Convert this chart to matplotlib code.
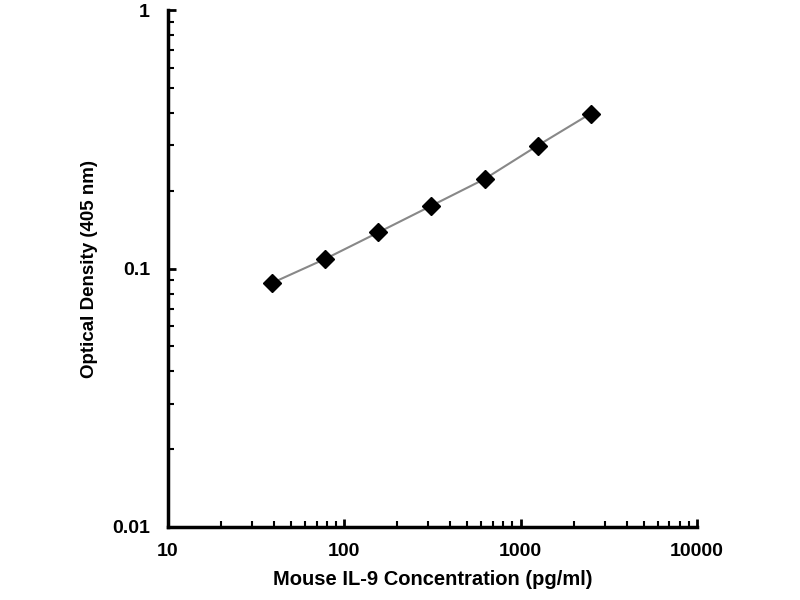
import matplotlib
matplotlib.use('Agg')
import matplotlib.pyplot as plt

plt.rcParams['font.family'] = ['Liberation Sans', 'DejaVu Sans']
plt.rcParams['font.weight'] = 'bold'

# standard curve data
conc = [39.06, 78.13, 156.25, 312.5, 625, 1250, 2500]
od = [0.088, 0.109, 0.138, 0.175, 0.222, 0.299, 0.398]

fig = plt.figure(figsize=(8, 6), dpi=100)
ax = fig.add_axes([0.21, 0.122, 0.661, 0.861])

ax.plot(conc, od, color='#888888', lw=1.5, zorder=2)
ax.plot(conc, od, ls='none', marker='D', ms=9, color='black', zorder=3)

ax.set_xscale('log')
ax.set_yscale('log')
ax.set_xlim(10, 10000)
ax.set_ylim(0.01, 1)
ax.set_xticks([10, 100, 1000, 10000])
ax.set_xticklabels(['10', '100', '1000', '10000'])
ax.set_yticks([0.01, 0.1, 1])
ax.set_yticklabels(['0.01', '0.1', '1'])

for s in ['top', 'right']:
    ax.spines[s].set_visible(False)
for s in ['left', 'bottom']:
    ax.spines[s].set_linewidth(2.5)

ax.tick_params(which='major', direction='in', length=6, width=2, labelsize=14)
ax.tick_params(axis='x', which='major', pad=12)
ax.tick_params(axis='y', which='major', pad=13)
ax.tick_params(which='minor', direction='in', length=4, width=1.5)

ax.set_xlabel('Mouse IL-9 Concentration (pg/ml)', fontsize=14.5, fontweight='bold', labelpad=7)
ax.set_ylabel('Optical Density (405 nm)', fontsize=13.5, fontweight='bold', labelpad=10)

fig.savefig('out.png', dpi=100)
